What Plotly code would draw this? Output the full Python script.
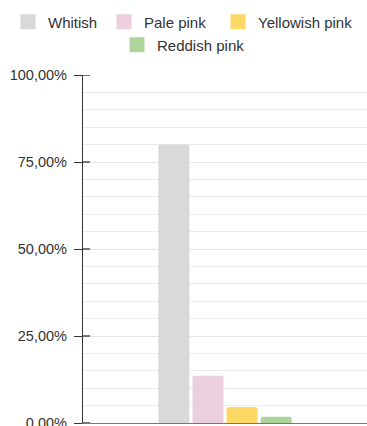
import plotly.graph_objects as go

categories = [""]
series_names = ["Whitish", "Pale pink", "Yellowish pink", "Reddish pink"]
series_values = [[80.0], [13.6], [4.6], [1.8]]
series_colors = ["#d9d9d9", "#ebcfdc", "#fdd865", "#add49a"]
tick_vals = [0, 25, 50, 75, 100]
tick_text = ["0,00%", "25,00%", "50,00%", "75,00%", "100,00%"]

# legend placement (left edge of swatch px, row centre px)
legend_pos = [(22, 22), (118, 22), (232, 22), (131, 45)]
W, H = 367, 426
OFF = 14  # offset from legend box left to swatch left

fig = go.Figure()
legend_ids = ["legend", "legend2", "legend3", "legend4"]
for name, vals, col, lid in zip(series_names, series_values, series_colors, legend_ids):
    fig.add_trace(go.Bar(x=categories, y=vals, name=name, marker_color=col,
                         marker_line_width=0, showlegend=False))
    fig.add_trace(go.Scatter(x=[None], y=[None], mode="markers", name=name,
                             marker=dict(symbol="square", size=15, color=col,
                                         line=dict(width=0)),
                             legend=lid, showlegend=True, hoverinfo="skip"))

for v in tick_vals:
    fig.add_shape(type="line", xref="paper", yref="y", x0=0, x1=0.025, y0=v, y1=v,
                  line=dict(color="#333333", width=1.3), layer="above")

layout_legends = {}
for lid, (px, py) in zip(legend_ids, legend_pos):
    layout_legends[lid] = dict(
        orientation="h", xref="container", yref="container",
        x=(px - OFF) / W, xanchor="left", y=1 - py / H, yanchor="middle",
        font=dict(size=15, color="#333333"), bgcolor="rgba(0,0,0,0)",
        itemwidth=30, itemsizing="trace")

fig.update_layout(
    width=W, height=H,
    margin=dict(l=83, r=0, t=75, b=3, autoexpand=False),
    paper_bgcolor="white", plot_bgcolor="white",
    font=dict(family="Liberation Sans, Arial, sans-serif", size=15, color="#333333"),
    barmode="group", bargap=0.52, bargroupgap=0.09, barcornerradius=2,
    showlegend=True,
    xaxis=dict(showgrid=False, showline=True, linecolor="#777777", linewidth=1.3,
               showticklabels=False, ticks="", zeroline=False, fixedrange=True,
               automargin=False),
    yaxis=dict(range=[0, 100], tickvals=tick_vals, ticktext=tick_text,
               showline=True, linecolor="#333333", linewidth=1.3,
               ticks="outside", ticklen=8, tickcolor="#333333", tickwidth=1.3,
               showgrid=True, gridcolor="#e6e6e6", gridwidth=1.3, zeroline=False,
               minor=dict(dtick=5, showgrid=True, gridcolor="#ececec", gridwidth=1.3,
                          ticks=""),
               tickfont=dict(size=14.5, color="#333333"), ticklabelstandoff=4,
               ticklabeloverflow="allow", automargin=False),
    **layout_legends,
)

fig.write_html("out.html")
